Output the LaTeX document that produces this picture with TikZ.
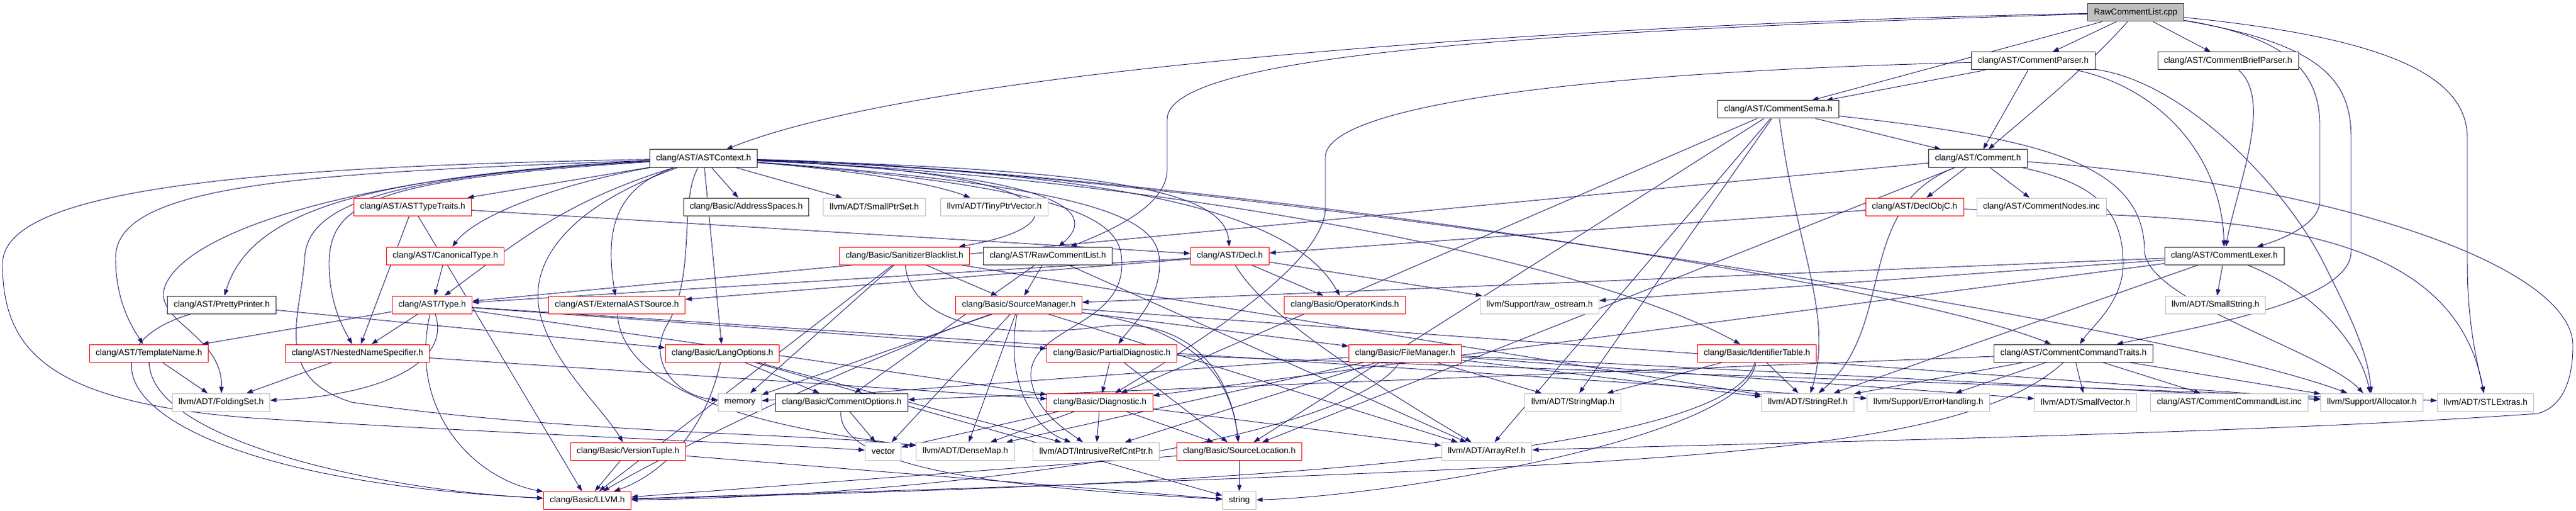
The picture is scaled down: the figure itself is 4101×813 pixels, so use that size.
\documentclass[tikz,border=0pt]{standalone}
\usepackage{fontspec}
\setmainfont{Liberation Sans}
\usetikzlibrary{arrows.meta,positioning}
\pgfdeclarelayer{background}
\pgfsetlayers{background,main}
\definecolor{edgeblue}{HTML}{191970}
\definecolor{extgray}{HTML}{BFBFBF}
\definecolor{rootgray}{HTML}{BFBFBF}

\begin{document}
\begin{tikzpicture}[x=1pt, y=-1pt,
    file/.style = {draw=black!85, line width=1pt, fill=white, minimum height=28pt,
                   inner xsep=10pt, inner ysep=0pt, font=\fontsize{13.6}{16}\selectfont},
    part/.style = {file, draw=red},
    ext/.style = {file, draw=extgray},
    root/.style = {file, fill=rootgray, draw=black!75},
    inc/.style = {draw=edgeblue, line width=0.9pt, -{Triangle[length=10pt,width=7pt]}}]
        \useasboundingbox (0,0) rectangle (4101,813);
        % Nodes
        \node[root] (cpp) at (3400,20) {RawCommentList.cpp};
        \node[file] (parser) at (3237,97) {clang/AST/CommentParser.h};
        \node[file] (brief) at (3547,97) {clang/AST/CommentBriefParser.h};
        \node[file] (sema) at (2831,174) {clang/AST/CommentSema.h};
        \node[file] (astctx) at (1120,252) {clang/AST/ASTContext.h};
        \node[file] (comment) at (3149,252) {clang/AST/Comment.h};
        \node[part] (typetraits) at (657,329) {clang/AST/ASTTypeTraits.h};
        \node[file] (addrspaces) at (1188,329) {clang/Basic/AddressSpaces.h};
        \node[ext] (smallptrset) at (1392,329) {llvm/ADT/SmallPtrSet.h};
        \node[ext] (tinyptr) at (1583,329) {llvm/ADT/TinyPtrVector.h};
        \node[part] (declobjc) at (3048,329) {clang/AST/DeclObjC.h};
        \node[ext] (nodesinc) at (3250,329) {clang/AST/CommentNodes.inc};
        \node[part] (canonical) at (709,407) {clang/AST/CanonicalType.h};
        \node[part] (sanitizer) at (1440,407) {clang/Basic/SanitizerBlacklist.h};
        \node[file] (rawlist) at (1668,407) {clang/AST/RawCommentList.h};
        \node[part] (decl) at (1958,407) {clang/AST/Decl.h};
        \node[file] (lexer) at (3541,407) {clang/AST/CommentLexer.h};
        \node[file] (pretty) at (353,485) {clang/AST/PrettyPrinter.h};
        \node[part] (type) at (688,485) {clang/AST/Type.h};
        \node[part] (external) at (982,485) {clang/AST/ExternalASTSource.h};
        \node[part] (srcmgr) at (1622,485) {clang/Basic/SourceManager.h};
        \node[part] (opkinds) at (2141,485) {clang/Basic/OperatorKinds.h};
        \node[ext] (rawostream) at (2451,485) {llvm/Support/raw\_ostream.h};
        \node[ext] (smallstring) at (3527,485) {llvm/ADT/SmallString.h};
        \node[part] (templname) at (237,562) {clang/AST/TemplateName.h};
        \node[part] (nns) at (569,562) {clang/AST/NestedNameSpecifier.h};
        \node[part] (langopts) at (1150,562) {clang/Basic/LangOptions.h};
        \node[part] (partial) at (1770,562) {clang/Basic/PartialDiagnostic.h};
        \node[part] (filemgr) at (2237,562) {clang/Basic/FileManager.h};
        \node[part] (identtable) at (2797,562) {clang/Basic/IdentifierTable.h};
        \node[file] (cmdtraits) at (3301,562) {clang/AST/CommentCommandTraits.h};
        \node[ext] (foldingset) at (352,640) {llvm/ADT/FoldingSet.h};
        \node[ext] (memory) at (1178,640) {memory};
        \node[file] (cmtopts) at (1340,640) {clang/Basic/CommentOptions.h};
        \node[part] (diag) at (1751,640) {clang/Basic/Diagnostic.h};
        \node[ext] (stringmap) at (2504,640) {llvm/ADT/StringMap.h};
        \node[ext] (stringref) at (2878,640) {llvm/ADT/StringRef.h};
        \node[ext] (errhandling) at (3070,640) {llvm/Support/ErrorHandling.h};
        \node[ext] (smallvec) at (3320,640) {llvm/ADT/SmallVector.h};
        \node[ext] (cmdlist) at (3549,640) {clang/AST/CommentCommandList.inc};
        \node[ext] (allocator) at (3776,640) {llvm/Support/Allocator.h};
        \node[ext] (stlextras) at (3957,640) {llvm/ADT/STLExtras.h};
        \node[part] (version) at (1000,718) {clang/Basic/VersionTuple.h};
        \node[ext] (vector) at (1406,718) {vector};
        \node[ext] (densemap) at (1537,718) {llvm/ADT/DenseMap.h};
        \node[ext] (intrusive) at (1745,718) {llvm/ADT/IntrusiveRefCntPtr.h};
        \node[part] (srcloc) at (1973,718) {clang/Basic/SourceLocation.h};
        \node[ext] (arrayref) at (2367,718) {llvm/ADT/ArrayRef.h};
        \node[part] (llvmh) at (935,796) {clang/Basic/LLVM.h};
        \node[ext] (string) at (1973,796) {string};
        % Edges
        \begin{pgfonlayer}{background}
        % RawCommentList.cpp
        \draw[inc] (cpp) .. controls (2600,35) and (1500,100) .. (astctx);
        \draw[inc] (cpp) .. controls (2400,50) and (1858,90) .. (1858,190) -- (1858,270) .. controls (1858,330) and (1760,370) .. (rawlist);
        \draw[inc] (cpp) -- (sema);
        \draw[inc] (cpp) -- (parser);
        \draw[inc] (cpp) .. controls (3320,110) and (3220,190) .. (comment);
        \draw[inc] (cpp) -- (brief);
        \draw[inc] (cpp) .. controls (3650,60) and (3693,120) .. (3693,200) -- (3693,320) .. controls (3693,360) and (3620,385) .. (lexer);
        \draw[inc] (cpp) .. controls (3700,70) and (3743,130) .. (3743,220) -- (3743,400) .. controls (3743,480) and (3500,520) .. (cmdtraits);
        \draw[inc] (cpp) .. controls (3800,60) and (3928,120) .. (3928,220) -- (3928,420) .. controls (3928,520) and (3945,580) .. (stlextras);
        % CommentParser.h
        \draw[inc] (parser) -- (sema);
        \draw[inc] (parser) -- (comment);
        \draw[inc] (parser) .. controls (3440,140) and (3537,250) .. (lexer);
        \draw[inc] (parser) .. controls (2500,115) and (2110,170) .. (2110,250) -- (2110,330) .. controls (2110,420) and (1900,550) .. (diag);
        \draw[inc] (parser) .. controls (3480,130) and (3640,300) .. (3700,420) .. controls (3740,500) and (3770,560) .. (allocator);
        % CommentBriefParser.h
        \draw[inc] (brief) .. controls (3620,160) and (3560,300) .. (lexer);
        % CommentSema.h
        \draw[inc] (sema) -- (comment);
        \draw[inc] (sema) -- (diag);
        \draw[inc] (sema) -- (srcloc);
        \draw[inc] (sema) -- (arrayref);
        \draw[inc] (sema) -- (stringmap);
        \draw[inc] (sema) .. controls (2860,400) and (2920,500) .. (stringref);
        \draw[inc] (sema) .. controls (3250,220) and (3414,260) .. (3414,400) .. controls (3420,480) and (3700,560) .. (allocator);
        % Comment.h
        \draw[inc] (comment) -- (declobjc);
        \draw[inc] (comment) -- (nodesinc);
        \draw[inc] (comment) -- (type);
        \draw[inc] (comment) .. controls (3330,290) and (3380,330) .. (3380,420) .. controls (3380,480) and (3330,520) .. (cmdtraits);
        \draw[inc] (comment) -- (srcloc);
        \draw[inc] (comment) .. controls (2950,330) and (3020,520) .. (stringref);
        \draw[inc] (comment) .. controls (3700,290) and (4096,420) .. (4096,550) .. controls (4096,620) and (4070,650) .. (4040,658) .. controls (3600,690) and (2800,705) .. (arrayref);
        % ASTContext.h
        \draw[inc] (astctx) -- (typetraits);
        \draw[inc] (astctx) .. controls (900,290) and (760,340) .. (canonical);
        \draw[inc] (astctx) -- (addrspaces);
        \draw[inc] (astctx) -- (smallptrset);
        \draw[inc] (astctx) .. controls (1350,270) and (1480,290) .. (tinyptr);
        \draw[inc] (astctx) .. controls (1720,275) and (1720,360) .. (sanitizer);
        \draw[inc] (astctx) .. controls (1750,280) and (1735,350) .. (rawlist);
        \draw[inc] (astctx) .. controls (1750,270) and (1950,300) .. (decl);
        \draw[inc] (astctx) .. controls (900,320) and (830,380) .. (type);
        \draw[inc] (astctx) .. controls (970,300) and (965,380) .. (external);
        \draw[inc] (astctx) .. controls (500,275) and (184,290) .. (184,410) .. controls (184,480) and (210,520) .. (templname);
        \draw[inc] (astctx) .. controls (600,280) and (400,330) .. (pretty);
        \draw[inc] (astctx) .. controls (600,285) and (524,320) .. (524,420) .. controls (524,480) and (545,520) .. (nns);
        \draw[inc] (astctx) .. controls (600,275) and (310,360) .. (265,450) .. controls (235,510) and (355,530) .. (foldingset);
        \draw[inc] (astctx) .. controls (400,265) and (4,300) .. (4,420) .. controls (4,560) and (80,640) .. (400,665) .. controls (800,690) and (1200,705) .. (vector);
        \draw[inc] (astctx) .. controls (600,280) and (490,330) .. (485,410) .. controls (480,500) and (430,600) .. (560,640) .. controls (900,690) and (1300,690) .. (densemap);
        \draw[inc] (astctx) .. controls (1080,320) and (1110,440) .. (1060,520) .. controls (1030,580) and (1080,630) .. (memory);
        \draw[inc] (astctx) -- (langopts);
        \draw[inc] (astctx) .. controls (900,330) and (840,420) .. (860,500) .. controls (880,580) and (960,650) .. (version);
        \draw[inc] (astctx) .. controls (1800,275) and (2060,340) .. (opkinds);
        \draw[inc] (astctx) .. controls (1800,300) and (1846,360) .. (1846,420) .. controls (1846,480) and (1800,520) .. (partial);
        \draw[inc] (astctx) .. controls (1750,300) and (1786,360) .. (1786,420) .. controls (1786,520) and (1640,520) .. (1641,598) .. controls (1645,650) and (1690,680) .. (intrusive);
        \draw[inc] (astctx) .. controls (1800,280) and (2500,400) .. (identtable);
        \draw[inc] (astctx) .. controls (1800,268) and (3000,440) .. (cmdtraits);
        \draw[inc] (astctx) .. controls (1800,265) and (3400,500) .. (allocator);
        % ASTTypeTraits.h
        \draw[inc] (typetraits) -- (decl);
        \draw[inc] (typetraits) -- (nns);
        \draw[inc] (typetraits) -- (llvmh);
        % DeclObjC.h
        \draw[inc] (declobjc) -- (decl);
        \draw[inc] (declobjc) .. controls (3500,350) and (3900,330) .. (stlextras);
        % CanonicalType.h
        \draw[inc] (canonical) -- (type);
        % SanitizerBlacklist.h
        \draw[inc] (sanitizer) -- (srcmgr);
        \draw[inc] (sanitizer) -- (memory);
        \draw[inc] (sanitizer) .. controls (1450,520) and (1600,540) .. (1750,520) .. controls (1900,500) and (1960,600) .. (srcloc);
        \draw[inc] (sanitizer) -- (stringref);
        \draw[inc] (sanitizer) -- (llvmh);
        % RawCommentList.h
        \draw[inc] (rawlist) -- (srcmgr);
        \draw[inc] (rawlist) -- (cmtopts);
        \draw[inc] (rawlist) -- (arrayref);
        % Decl.h
        \draw[inc] (decl) -- (external);
        \draw[inc] (decl) -- (type);
        \draw[inc] (decl) -- (opkinds);
        \draw[inc] (decl) -- (rawostream);
        \draw[inc] (decl) .. controls (2000,480) and (2100,560) .. (arrayref);
        % CommentLexer.h
        \draw[inc] (lexer) -- (smallstring);
        \draw[inc] (lexer) -- (rawostream);
        \draw[inc] (lexer) -- (srcmgr);
        \draw[inc] (lexer) -- (diag);
        \draw[inc] (lexer) -- (stringref);
        \draw[inc] (lexer) .. controls (3700,470) and (3760,560) .. (allocator);
        % PrettyPrinter.h
        \draw[inc] (pretty) -- (langopts);
        \draw[inc] (pretty) .. controls (100,560) and (200,760) .. (llvmh);
        % Type.h
        \draw[inc] (type) -- (templname);
        \draw[inc] (type) -- (nns);
        \draw[inc] (type) .. controls (720,580) and (600,630) .. (foldingset);
        \draw[inc] (type) .. controls (650,650) and (750,760) .. (llvmh);
        \draw[inc] (type) -- (partial);
        \draw[inc] (type) -- (diag);
        \draw[inc] (type) -- (errhandling);
        % ExternalASTSource.h
        \draw[inc] (external) .. controls (990,620) and (1200,680) .. (densemap);
        % SourceManager.h
        \draw[inc] (srcmgr) -- (filemgr);
        \draw[inc] (srcmgr) -- (vector);
        \draw[inc] (srcmgr) -- (densemap);
        \draw[inc] (srcmgr) .. controls (1600,600) and (1640,680) .. (intrusive);
        \draw[inc] (srcmgr) -- (memory);
        \draw[inc] (srcmgr) .. controls (1900,520) and (1960,600) .. (srcloc);
        \draw[inc] (srcmgr) -- (arrayref);
        \draw[inc] (srcmgr) -- (allocator);
        \draw[inc] (srcmgr) .. controls (1400,560) and (1100,700) .. (llvmh);
        % TemplateName.h
        \draw[inc] (templname) -- (foldingset);
        \draw[inc] (templname) .. controls (240,700) and (600,780) .. (llvmh);
        % NestedNameSpecifier.h
        \draw[inc] (nns) -- (foldingset);
        \draw[inc] (nns) -- (diag);
        % LangOptions.h
        \draw[inc] (langopts) -- (cmtopts);
        \draw[inc] (langopts) .. controls (1120,700) and (1040,760) .. (llvmh);
        \draw[inc] (langopts) -- (intrusive);
        \draw[inc] (langopts) -- (string);
        % PartialDiagnostic.h
        \draw[inc] (partial) -- (diag);
        \draw[inc] (partial) -- (srcloc);
        \draw[inc] (partial) -- (stlextras);
        % FileManager.h
        \draw[inc] (filemgr) -- (stringmap);
        \draw[inc] (filemgr) -- (stringref);
        \draw[inc] (filemgr) -- (smallvec);
        \draw[inc] (filemgr) -- (allocator);
        \draw[inc] (filemgr) -- (densemap);
        \draw[inc] (filemgr) -- (intrusive);
        \draw[inc] (filemgr) -- (memory);
        \draw[inc] (filemgr) .. controls (2150,700) and (1500,790) .. (llvmh);
        % IdentifierTable.h
        \draw[inc] (identtable) -- (stringmap);
        \draw[inc] (identtable) -- (stringref);
        \draw[inc] (identtable) .. controls (2780,700) and (2200,790) .. (string);
        \draw[inc] (identtable) .. controls (2750,760) and (1500,780) .. (llvmh);
        % CommentCommandTraits.h
        \draw[inc] (cmdtraits) -- (stringref);
        \draw[inc] (cmdtraits) -- (errhandling);
        \draw[inc] (cmdtraits) -- (smallvec);
        \draw[inc] (cmdtraits) -- (cmdlist);
        \draw[inc] (cmdtraits) -- (allocator);
        \draw[inc] (cmdtraits) -- (cmtopts);
        \draw[inc] (cmdtraits) .. controls (3150,700) and (2800,730) .. (2000,760) .. controls (1500,780) and (1100,790) .. (llvmh);
        % CommentOptions.h
        \draw[inc] (cmtopts) -- (vector);
        \draw[inc] (cmtopts) .. controls (1330,760) and (1700,780) .. (string);
        % Diagnostic.h
        \draw[inc] (diag) -- (vector);
        \draw[inc] (diag) -- (densemap);
        \draw[inc] (diag) -- (intrusive);
        \draw[inc] (diag) -- (srcloc);
        \draw[inc] (diag) -- (arrayref);
        % SourceLocation.h
        \draw[inc] (srcloc) -- (string);
        \draw[inc] (srcloc) -- (llvmh);
        % VersionTuple.h
        \draw[inc] (version) -- (llvmh);
        \draw[inc] (version) -- (string);
        \end{pgfonlayer}
\end{tikzpicture}
\end{document}
